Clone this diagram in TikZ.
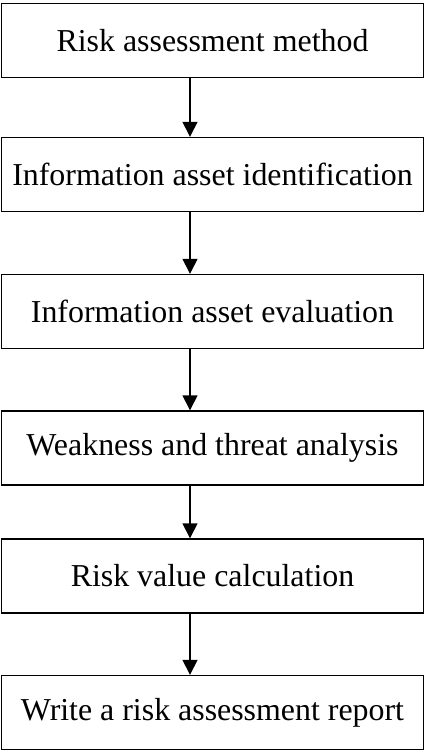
\documentclass[tikz,border=0pt]{standalone}
\usepackage{fontspec}
\setmainfont{Liberation Serif}
\usetikzlibrary{arrows.meta}
\begin{document}
\begin{tikzpicture}[x=1pt,y=-1pt,
  stage/.style={draw=black, line width=1.4pt, minimum width=422pt, minimum height=74pt,
    inner sep=0pt, font=\fontsize{31.9}{36}\selectfont, anchor=center},
  flow/.style={line width=1.4pt, -{Triangle[length=15pt,width=15pt]}}]
  \useasboundingbox (0,0) rectangle (425,750);
  \node[stage] (s1) at (212.5,40.5) {Risk assessment method};
  \node[stage] (s2) at (212.5,174.5) {Information asset identification};
  \node[stage] (s3) at (212.5,311.5) {Information asset evaluation};
  \node[stage] (s4) at (212.5,448) {Weakness and threat analysis};
  \node[stage] (s5) at (212.5,576) {Risk value calculation};
  \node[stage] (s6) at (212.5,712.5) {Write a risk assessment report};
  \coordinate (axis) at (190,0);
  \draw[flow] (s1.south -| axis) -- (s2.north -| axis);
  \draw[flow] (s2.south -| axis) -- (s3.north -| axis);
  \draw[flow] (s3.south -| axis) -- (s4.north -| axis);
  \draw[flow] (s4.south -| axis) -- (s5.north -| axis);
  \draw[flow] (s5.south -| axis) -- (s6.north -| axis);
\end{tikzpicture}
\end{document}
